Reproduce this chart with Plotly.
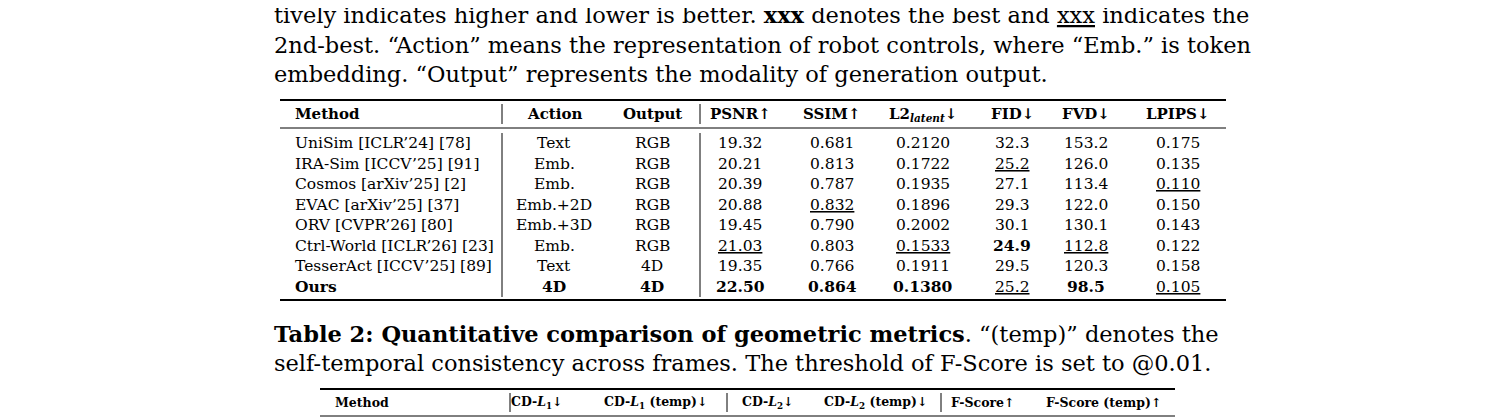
import plotly.graph_objects as go

SERIF = "DejaVu Serif"
OFF = 8  # page body margin shifts the figure by this many px

caption_lines = [
    "tively indicates higher and lower is better. <b>xxx</b> denotes the best and <u>xxx</u> indicates the",
    "2nd-best. “Action” means the representation of robot controls, where “Emb.” is token",
    "embedding. “Output” represents the modality of generation output.",
]
caption2_lines = [
    "<b>Table 2: Quantitative comparison of geometric metrics</b>. “(temp)” denotes the",
    "self-temporal consistency across frames. The threshold of F-Score is set to @0.01.",
]

headers = ["Method", "Action", "Output", "PSNR↑", "SSIM↑", "L2<sub><i>latent</i></sub>↓",
           "FID↓", "FVD↓", "LPIPS↓"]
methods = ["UniSim [ICLR’24] [78]", "IRA-Sim [ICCV’25] [91]", "Cosmos [arXiv’25] [2]",
           "EVAC [arXiv’25] [37]", "ORV [CVPR’26] [80]", "Ctrl-World [ICLR’26] [23]",
           "TesserAct [ICCV’25] [89]", "Ours"]
action = ["Text", "Emb.", "Emb.", "Emb.+2D", "Emb.+3D", "Emb.", "Text", "4D"]
output = ["RGB", "RGB", "RGB", "RGB", "RGB", "RGB", "4D", "4D"]
psnr = ["19.32", "20.21", "20.39", "20.88", "19.45", "21.03", "19.35", "22.50"]
ssim = ["0.681", "0.813", "0.787", "0.832", "0.790", "0.803", "0.766", "0.864"]
l2 = ["0.2120", "0.1722", "0.1935", "0.1896", "0.2002", "0.1533", "0.1911", "0.1380"]
fid = ["32.3", "25.2", "27.1", "29.3", "30.1", "24.9", "29.5", "25.2"]
fvd = ["153.2", "126.0", "113.4", "122.0", "130.1", "112.8", "120.3", "98.5"]
lpips = ["0.175", "0.135", "0.110", "0.150", "0.143", "0.122", "0.158", "0.105"]
# (column index, row index) marks
best = [(3, 7), (4, 7), (5, 7), (6, 5), (7, 7)]
second = [(3, 5), (4, 3), (5, 5), (6, 1), (6, 7), (7, 5), (8, 2), (8, 7)]

headers2 = ["Method", "CD-<i>L</i><sub>1</sub>↓", "CD-<i>L</i><sub>1</sub> (temp)↓",
            "CD-<i>L</i><sub>2</sub>↓", "CD-<i>L</i><sub>2</sub> (temp)↓",
            "F-Score↑", "F-Score (temp)↑"]

fig = go.Figure()
W, H = 1496, 418


def text(x, y, s, size, anchor="left", color="black"):
    fig.add_annotation(x=x - OFF, y=y - OFF, text=s, showarrow=False, xanchor=anchor,
                       yanchor="middle", font=dict(family=SERIF, size=size, color=color))


def hline(x0, x1, y, w):
    fig.add_shape(type="line", x0=x0 - OFF, x1=x1 - OFF, y0=y - OFF, y1=y - OFF,
                  line=dict(color="black", width=w))


def vline(x, y0, y1):
    fig.add_shape(type="line", x0=x - OFF, x1=x - OFF, y0=y0 - OFF, y1=y1 - OFF,
                  line=dict(color="black", width=1))


for i, s in enumerate(caption_lines):
    text(272, 15 + 29.5 * i, s, 22.5)
for i, s in enumerate(caption2_lines):
    text(272, 334 + 28.5 * i, s, 22.5)

# table 1
cols_x = [293, 554, 652, 740, 832, 923, 1012, 1086, 1178]
hline(280, 1226, 100, 2)
hline(280, 1226, 128, 1)
hline(280, 1226, 300, 2)
for vx in (502, 700):
    vline(vx, 104, 124)
    vline(vx, 133, 297)
for j, h in enumerate(headers):
    text(cols_x[j], 114, "<b>%s</b>" % h, 15, "left" if j == 0 else "center")
columns = [methods, action, output, psnr, ssim, l2, fid, fvd, lpips]
for j, col in enumerate(columns):
    for r, v in enumerate(col):
        s = v
        if (j, r) in best or r == 7 and j < 3:
            s = "<b>%s</b>" % s
        if (j, r) in second:
            s = "<u>%s</u>" % s
        text(cols_x[j], 143 + 20.5 * r, s, 15.5, "left" if j == 0 else "center")

# table 2
cols2_x = [333, 537, 655, 768, 875, 983, 1103]
hline(320, 1175, 389, 2)
hline(320, 1175, 416, 1)
for vx in (510, 727, 941):
    vline(vx, 393, 412)
for j, h in enumerate(headers2):
    text(cols2_x[j], 402, "<b>%s</b>" % h, 12.5, "left" if j == 0 else "center")

fig.update_xaxes(range=[0, W], visible=False, fixedrange=True)
fig.update_yaxes(range=[H, 0], visible=False, fixedrange=True)
fig.update_layout(width=W, height=H, margin=dict(l=0, r=0, t=0, b=0),
                  plot_bgcolor="white", paper_bgcolor="white", showlegend=False)
fig.write_html("out.html")
